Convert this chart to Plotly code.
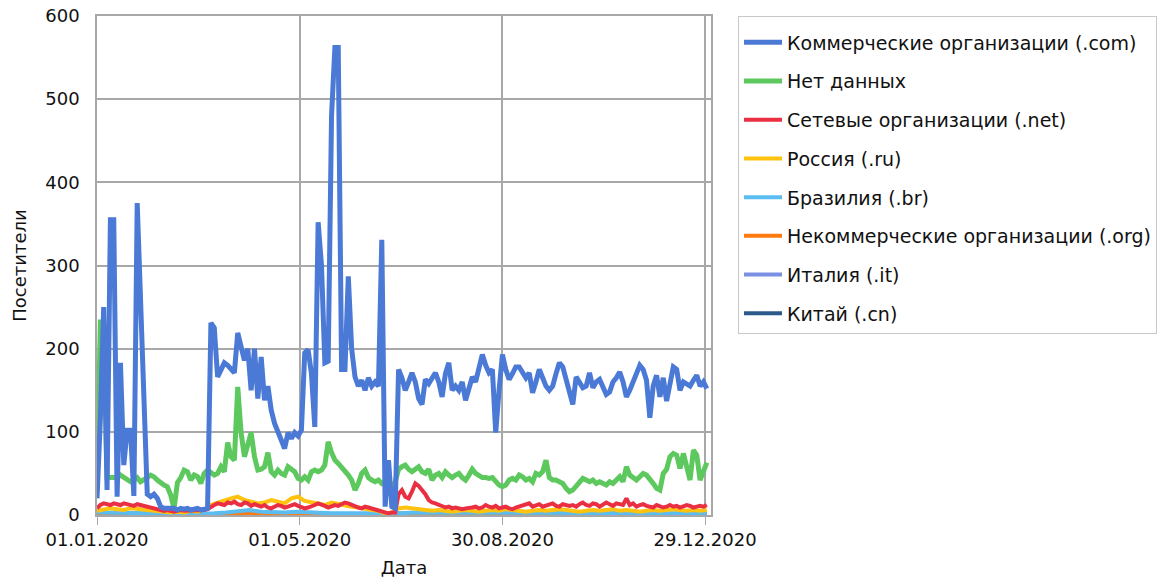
import pandas as pd
import plotly.graph_objects as go

# ---- data ----
start_date = "2020-01-01"

series_names = [
    "Коммерческие организации (.com)",
    "Нет данных",
    "Сетевые организации (.net)",
    "Россия (.ru)",
    "Бразилия (.br)",
    "Некоммерческие организации (.org)",
    "Италия (.it)",
    "Китай (.cn)",
]
series_colors = ["#4b79d6", "#5dc85d", "#ea2f42", "#ffc20e", "#5bbcf0", "#ff7b0f", "#7b8fe3", "#2b5a8a"]

# every 2 days
com = [20, 115, 250, 30, 355, 355, 22, 183, 60, 102, 102, 23, 375, 255, 150, 25, 22, 25, 20, 10,
       8, 8, 7, 8, 6, 8, 7, 8, 6, 7, 8, 6, 7, 8, 231, 225, 166, 175, 183, 180,
       175, 171, 219, 205, 186, 200, 150, 200, 140, 190, 138, 155, 126, 110, 99, 87, 80, 99, 92, 99,
       95, 102, 195, 199, 170, 106, 352, 300, 183, 185, 480, 562, 562, 175, 175, 287, 200, 166, 155, 162,
       150, 165, 155, 160, 155, 331, 10, 66, 10, 8, 175, 165, 150, 160, 171, 160, 140, 133, 163, 158,
       165, 171, 160, 142, 170, 183, 150, 155, 150, 160, 138, 150, 166, 160, 175, 193, 180, 171, 175, 99,
       150, 193, 175, 163, 170, 178, 178, 172, 165, 171, 147, 160, 175, 165, 155, 150, 155, 170, 183, 178,
       163, 145, 133, 166, 158, 153, 155, 171, 153, 160, 163, 155, 145, 148, 160, 165, 172, 160, 142, 150,
       162, 170, 180, 175, 162, 117, 155, 168, 142, 165, 137, 160, 178, 175, 150, 160, 158, 155, 162, 168,
       155, 160, 152]

no_data = [30, 232, 232, 45, 45, 45, 45, 48, 45, 42, 40, 42, 45, 40, 42, 45, 48, 46, 42, 38,
           36, 34, 24, 8, 39, 45, 54, 52, 42, 48, 46, 38, 50, 54, 50, 48, 50, 58, 52, 87,
           70, 66, 154, 99, 70, 85, 99, 70, 54, 55, 58, 75, 52, 48, 54, 50, 48, 58, 55, 52,
           44, 42, 46, 42, 52, 54, 52, 54, 60, 88, 75, 66, 62, 58, 54, 48, 42, 30, 38, 50,
           54, 45, 42, 40, 42, 38, 40, 35, 32, 40, 55, 58, 60, 55, 52, 55, 58, 52, 50, 55,
           42, 48, 50, 45, 52, 48, 45, 48, 50, 45, 42, 48, 55, 50, 47, 45, 45, 44, 45, 40,
           36, 34, 36, 42, 44, 42, 48, 46, 42, 44, 40, 50, 48, 52, 66, 45, 42, 42, 40, 38,
           32, 28, 30, 35, 40, 44, 42, 40, 42, 38, 40, 38, 36, 40, 38, 42, 46, 40, 58, 48,
           44, 42, 46, 50, 48, 44, 38, 32, 30, 50, 55, 70, 74, 72, 56, 74, 60, 42, 78, 72,
           42, 55, 63]

net = [8, 12, 14, 13, 12, 14, 13, 12, 14, 13, 12, 11, 13, 12, 10, 9,
       8, 7, 6, 5, 5, 6, 5, 4, 5, 6, 5, 5, 6, 5, 6, 5, 6, 7,
       10, 12, 14, 13, 12, 15, 14, 16, 13, 12, 15, 14, 11, 13, 12, 10, 12,
       9, 8, 10, 12, 11, 9, 10, 12, 13, 11, 10, 8, 9, 10, 12, 14, 13, 11, 9, 10,
       12, 11, 13, 15, 14, 12, 10, 9, 8, 10, 9, 8, 7, 6, 5,
       3, 2, 3, 3,
       25, 30, 22, 20, 28, 38, 35, 30, 25, 18, 15,
       14, 12, 10, 9, 10, 8, 9, 8, 7, 8,
       8, 9, 10, 8, 9, 12, 10, 9, 11, 8, 9, 10, 8, 7, 9, 10, 11, 12, 14, 10, 12, 13, 10, 11, 12, 14, 11, 10, 13, 12,
       11, 12, 10, 13, 15, 12, 11, 14, 13, 10, 12, 15, 13, 11, 14, 13, 12, 20, 12, 14,
       10, 12, 13, 11, 10, 9, 12, 11, 9, 10, 12, 10, 11, 9, 10, 12, 11, 9, 10, 11, 10, 12]

# every 4 days
ru = [5, 6, 8, 7, 6, 8, 7, 6, 5,
      4, 3, 3, 4, 3, 5, 4, 6,
      12, 15, 18, 20, 22, 18, 16, 14,
      15, 18, 16, 14, 20, 22, 17, 15,
      14, 12, 15, 13, 12, 10, 9, 7, 6, 5,
      2, 3, 8, 9, 8,
      7, 6, 5, 6, 5, 4, 5, 6, 5, 4, 5, 6, 5, 7, 6, 5, 4, 5, 6, 5, 6, 7, 6, 5, 4, 5, 6, 5, 6, 7,
      5, 6, 5, 4, 5, 6, 5, 6, 7, 6, 5, 6, 5, 6]

# every 7 days
br = [3, 3, 2, 2, 2, 2, 1, 1, 1, 2, 2, 3, 5, 6, 4, 3, 3, 4, 3, 3, 2, 2, 2, 1, 1, 2, 2, 3, 3, 2,
      3, 3, 2, 3, 3, 2, 3, 3, 3, 2, 3, 3, 3, 2, 3, 3, 2, 3, 3, 2, 3, 3, 2]
org = [1, 2, 1, 1, 2, 1, 1, 1, 2, 1, 1, 2, 2, 1, 1, 2, 1, 1, 2, 1, 1, 1, 1, 0, 1, 1, 2, 1, 1, 2,
       1, 1, 2, 1, 1, 2, 1, 1, 1, 2, 1, 1, 2, 1, 1, 1, 2, 1, 1, 2, 1, 1, 1]
it = [1, 1, 0, 1, 1, 1, 0, 1, 1, 1, 1, 1, 2, 1, 1, 1, 0, 1, 1, 1, 1, 0, 1, 1, 0, 1, 1, 1, 1, 0,
      1, 1, 1, 1, 0, 1, 1, 1, 1, 1, 0, 1, 1, 1, 1, 0, 1, 1, 1, 1, 0, 1, 1]
cn = [0, 1, 0, 0, 1, 0, 0, 0, 1, 0, 0, 1, 0, 0, 0, 1, 0, 0, 0, 1, 0, 0, 1, 0, 0, 0, 1, 0, 0, 0,
      1, 0, 0, 0, 1, 0, 0, 0, 1, 0, 0, 0, 1, 0, 0, 0, 1, 0, 0, 0, 1, 0, 0]

steps = ["2D", "2D", "2D", "4D", "7D", "7D", "7D", "7D"]
values = [com, no_data, net, ru, br, org, it, cn]

tick_dates = ["2020-01-01", "2020-05-01", "2020-08-30", "2020-12-29"]
tick_labels = ["01.01.2020", "01.05.2020", "30.08.2020", "29.12.2020"]
y_ticks = [0, 100, 200, 300, 400, 500, 600]

FONT = "DejaVu Sans, Verdana, sans-serif"

fig = go.Figure()
# draw last series first so the first series (com) is on top
for k in reversed(range(len(series_names))):
    vals = values[k]
    dates = pd.date_range(start_date, periods=len(vals), freq=steps[k])
    fig.add_trace(go.Scatter(
        x=dates, y=vals, mode="lines", name=series_names[k],
        legendgroup=f"g{k}", legendrank=k + 1,
        line=dict(color=series_colors[k], width=5 if k < 2 else 4),
        hoverinfo="x+y+name",
    ))

fig.update_layout(
    width=1166, height=578,
    margin=dict(l=97, r=455, t=16, b=63, autoexpand=False),
    paper_bgcolor="white", plot_bgcolor="white",
    font=dict(family=FONT, size=18, color="#111111"),
    showlegend=True,
    legend=dict(
        x=1.044, y=1.0, xanchor="left", yanchor="top",
        traceorder="grouped", tracegroupgap=11,
        bordercolor="#c8c8c8", borderwidth=1, bgcolor="white",
        font=dict(family=FONT, size=19, color="#111111"),
        itemwidth=38,
        title=dict(text=" ", font=dict(size=5)),
    ),
)
fig.update_xaxes(
    automargin=False,
    range=["2020-01-01", "2021-01-01 12:00"],
    tickvals=tick_dates, ticktext=tick_labels,
    showgrid=True, gridcolor="#a8a8a8", gridwidth=1.5,
    showline=True, linecolor="#a8a8a8", linewidth=1.5, mirror=True,
    ticks="outside", ticklen=8, tickcolor="#a8a8a8",
    zeroline=False, ticklabeloverflow="allow",
    title=dict(text="Дата", standoff=12, font=dict(size=18)),
    tickfont=dict(size=18),
)
fig.update_yaxes(
    automargin=False,
    range=[0, 600], tickvals=y_ticks,
    showgrid=True, gridcolor="#a8a8a8", gridwidth=1.5,
    showline=True, linecolor="#a8a8a8", linewidth=1.5, mirror=True,
    zeroline=False, ticks="", ticklabelstandoff=12, ticklabeloverflow="allow",
    title=dict(text="Посетители", standoff=14, font=dict(size=18)),
    tickfont=dict(size=18),
)

# remove the browser's default 8px page margin so the figure sits at the page origin
fig.write_html("out.html", config={"displayModeBar": False},
               post_script="document.body.style.margin='0px';")
